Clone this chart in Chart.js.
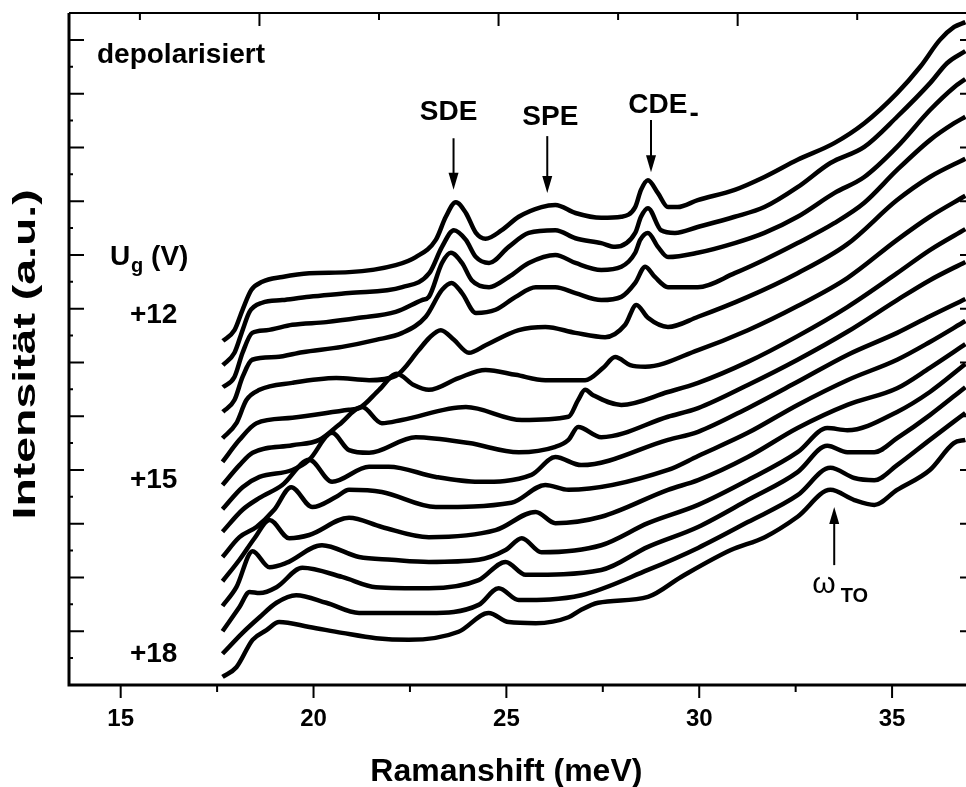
<!DOCTYPE html>
<html>
<head>
<meta charset="utf-8">
<script src="https://cdn.jsdelivr.net/npm/chart.js@4.4.0/dist/chart.umd.min.js"></script>
<style>
  html, body { margin: 0; padding: 0; background: #fff; overflow: hidden; }
  canvas { display: block; }
</style>
</head>
<body>
<canvas id="grafico" width="976" height="787"></canvas>
<script>
// Spektren von oben (1) nach unten (15): Ramanshift in meV, Intensitaet in a.u.
const shift1 = [17.65,17.95,18.16,18.39,18.67,19.19,19.89,20.92,22.13,22.65,23.17,23.43,23.69,23.95,24.21,24.46,24.88,25.32,25.91,26.27,26.79,27.46,27.98,28.34,28.49,28.67,28.93,29.19,29.44,29.96,30.92,31.69,32.55,33.50,34.28,35.13,35.73,36.24,36.61,36.9];
const int1   = [6.40,6.60,6.98,7.35,7.50,7.59,7.66,7.68,7.81,7.96,8.28,8.71,8.98,8.78,8.41,8.30,8.46,8.71,8.89,8.93,8.78,8.69,8.71,8.89,9.21,9.39,9.15,8.89,8.89,9.02,9.21,9.45,9.77,10.08,10.45,11.01,11.50,12.00,12.24,12.33];

const shift2 = [17.65,17.95,18.16,18.34,18.67,19.19,19.89,20.92,22.30,23.00,23.33,23.64,23.95,24.21,24.55,25.06,25.58,26.27,26.79,27.46,27.82,28.34,28.49,28.67,29.01,29.37,29.96,30.92,31.69,32.55,33.40,34.28,35.13,35.99,36.43,36.9];
const int2   = [5.95,6.18,6.60,6.94,7.11,7.16,7.22,7.29,7.40,7.66,8.15,8.46,8.28,7.96,7.85,8.15,8.41,8.46,8.31,8.22,8.15,8.41,8.71,8.87,8.46,8.41,8.52,8.71,8.89,9.26,9.71,10.01,10.57,11.20,11.57,11.79];

const shift3 = [17.65,17.95,18.16,18.41,18.78,19.45,20.33,21.18,22.13,22.81,22.99,23.33,23.56,23.85,24.10,24.55,25.06,25.58,26.27,26.79,27.46,27.98,28.34,28.47,28.67,28.93,29.19,29.96,30.92,31.69,32.55,33.50,34.28,35.13,35.99,36.61,36.9];
const int3   = [5.54,5.73,6.18,6.55,6.60,6.70,6.75,6.83,6.94,7.16,7.22,7.85,8.04,7.85,7.53,7.40,7.59,7.85,8.00,7.85,7.72,7.78,8.04,8.28,8.41,8.15,7.96,8.04,8.22,8.41,8.71,9.15,9.45,10.01,10.70,11.12,11.27];

const shift4 = [17.65,17.95,18.16,18.41,19.03,19.71,20.74,21.62,22.30,22.91,23.33,23.58,23.85,24.21,24.72,25.24,25.76,26.27,26.79,27.46,27.98,28.34,28.60,28.85,29.19,29.96,30.92,31.69,32.55,33.50,34.28,35.13,35.99,36.61,36.9];
const int4   = [5.08,5.30,5.73,6.05,6.10,6.19,6.29,6.42,6.55,6.85,7.35,7.48,7.29,6.92,6.98,7.22,7.40,7.40,7.29,7.16,7.22,7.48,7.78,7.59,7.40,7.40,7.66,7.91,8.22,8.59,8.97,9.58,10.14,10.45,10.57];

const shift5 = [17.64,18.00,18.26,18.60,19.45,20.59,21.44,22.13,22.73,22.99,23.30,23.64,24.03,24.46,25.32,26.01,26.79,27.56,28.08,28.37,28.67,29.19,29.97,31.26,32.55,33.84,35.13,35.98,36.9];
const int5   = [4.59,4.87,5.30,5.49,5.62,5.71,5.67,5.75,6.23,6.45,6.60,6.42,6.18,6.32,6.60,6.66,6.55,6.47,6.70,7.07,6.83,6.66,6.85,7.22,7.66,8.20,9.02,9.45,9.79];

const shift6 = [17.64,18.08,18.52,19.45,20.92,21.18,21.70,22.16,22.60,22.99,23.76,24.46,25.24,26.01,27.04,27.51,27.82,28.21,28.60,29.97,31.26,32.55,33.84,35.13,35.98,36.9];
const int6   = [4.15,4.56,4.87,4.97,5.12,5.15,5.49,5.79,5.58,5.49,5.71,5.86,5.77,5.67,5.67,5.90,6.10,5.95,5.92,6.23,6.60,7.05,7.57,8.28,8.71,9.10];

const shift7 = [17.64,18.08,18.42,19.45,20.15,20.66,21.26,21.77,22.29,23.95,25.40,26.61,26.86,27.04,27.25,27.98,29.19,29.97,31.26,32.55,33.84,35.13,35.98,36.9];
const int7   = [3.72,4.09,4.32,4.46,4.56,4.84,5.17,4.87,4.93,5.17,4.93,4.99,5.30,5.49,5.39,5.21,5.45,5.62,6.01,6.49,7.03,7.66,8.09,8.48];

const shift8 = [17.64,18.16,18.60,19.45,19.89,20.48,20.92,21.44,22.65,24.03,25.32,26.27,26.61,26.86,27.46,29.19,29.97,31.26,32.55,33.84,35.13,35.98,36.9];
const int8   = [3.27,3.68,3.87,4.00,4.19,4.69,4.37,4.32,4.61,4.50,4.33,4.43,4.56,4.80,4.61,4.99,5.15,5.58,6.05,6.57,7.16,7.53,7.87];

const shift9 = [17.64,18.16,18.60,19.19,19.89,20.48,21.44,21.95,23.17,24.28,25.65,26.27,26.94,29.19,29.97,31.26,32.55,33.84,35.13,35.98,36.9];
const int9   = [2.85,3.26,3.48,3.72,4.19,3.78,4.06,4.06,3.87,3.78,3.91,4.24,4.09,4.56,4.71,5.15,5.64,6.14,6.55,6.86,7.18];

const shift10 = [17.64,18.08,18.52,18.98,19.42,19.97,20.59,20.92,21.77,23.17,25.13,26.01,26.61,29.19,29.97,31.26,32.55,33.84,35.13,35.98,36.9];
const int10   = [2.38,2.75,2.94,3.26,3.68,3.31,3.50,3.63,3.59,3.31,3.39,3.72,3.63,4.00,4.26,4.69,5.21,5.67,6.05,6.38,6.77];

const shift11 = [17.64,18.08,18.47,18.86,19.37,19.89,20.92,21.77,22.99,24.72,25.76,26.27,27.46,29.19,29.97,31.26,32.55,33.84,35.13,35.98,36.9];
const int11   = [1.93,2.33,2.73,3.07,2.73,2.79,3.11,2.94,2.75,2.88,3.22,3.01,3.13,3.63,3.81,4.24,4.78,5.21,5.52,5.90,6.34];

const shift12 = [17.64,18.00,18.42,18.86,19.29,20.22,21.18,22.03,22.99,24.28,24.98,25.40,25.91,27.46,28.67,29.97,31.26,32.55,33.32,33.84,35.13,35.98,36.9];
const int12   = [1.47,1.82,2.49,2.19,2.27,2.60,2.38,2.33,2.29,2.33,2.51,2.73,2.47,2.60,3.01,3.35,3.81,4.33,4.78,4.74,5.08,5.45,5.97];

const shift13 = [17.64,18.08,18.34,18.60,19.04,19.71,20.74,21.62,22.99,24.28,24.98,25.50,27.46,28.67,29.97,31.26,32.55,33.32,33.84,34.54,35.13,35.98,36.9];
const int13   = [1.00,1.45,1.73,1.71,1.82,2.18,2.01,1.82,1.80,1.95,2.29,2.05,2.14,2.57,2.94,3.44,3.96,4.45,4.33,4.33,4.59,5.02,5.54];

const shift14 = [17.64,18.16,18.60,19.04,19.55,20.33,21.18,22.03,22.99,24.28,24.80,25.32,26.94,28.67,29.97,31.26,32.55,33.40,34.02,34.54,35.13,35.98,36.9];
const int14   = [0.58,0.97,1.26,1.53,1.67,1.53,1.34,1.34,1.34,1.49,1.80,1.58,1.67,2.14,2.55,3.03,3.53,4.04,3.85,3.81,4.09,4.56,5.06];

const shift15 = [17.64,18.00,18.42,18.78,19.11,19.89,20.74,21.62,22.47,23.76,24.54,25.06,25.76,26.61,26.94,27.38,28.67,29.53,30.82,31.70,32.55,33.40,34.02,34.54,35.13,35.98,36.60,36.9];
const int15   = [0.15,0.33,0.84,1.02,1.17,1.08,0.97,0.87,0.84,0.99,1.34,1.17,1.15,1.26,1.40,1.53,1.64,2.01,2.51,2.75,3.13,3.63,3.44,3.35,3.63,4.00,4.50,4.56];

// Achsen
const xTicks = [15, 20, 25, 30, 35];
const xMinor = [17.5, 22.5, 27.5, 32.5];
const topTicksCm = [125, 150, 175, 200, 225, 250, 275]; // Wellenzahl cm^-1, oben ohne Beschriftung
const gateLabels = ['+12', '+15', '+18'];

const spektren = [
  [shift1, int1], [shift2, int2], [shift3, int3], [shift4, int4], [shift5, int5],
  [shift6, int6], [shift7, int7], [shift8, int8], [shift9, int9], [shift10, int10],
  [shift11, int11], [shift12, int12], [shift13, int13], [shift14, int14], [shift15, int15]
];

const FONT = "Arial, 'Liberation Sans', Helvetica, sans-serif";

// Beschriftungen im Diagramm (Datenkoordinaten)
const texte = [
  { t: 'depolarisiert', x: 14.385, y: 11.57 },
  { t: gateLabels[0], x: 15.24, y: 6.73 },
  { t: gateLabels[1], x: 15.24, y: 3.66 },
  { t: gateLabels[2], x: 15.24, y: 0.43 },
  { t: 'SDE', x: 23.50, y: 10.51, center: true },
  { t: 'SPE', x: 26.14, y: 10.42, center: true }
];
const pfeile = [
  { x: 23.63, von: 10.17, bis: 9.21 },
  { x: 26.06, von: 10.21, bis: 9.15 },
  { x: 28.75, von: 10.51, bis: 9.54 },
  { x: 33.50, von: 2.23, bis: 3.31 }
];

const beschriftung = {
  id: 'beschriftung',
  afterDraw(chart) {
    const ctx = chart.ctx;
    const a = chart.chartArea;
    const sx = chart.scales.x, sy = chart.scales.y;
    const px = v => sx.getPixelForValue(v);
    const py = v => sy.getPixelForValue(v);
    ctx.save();
    ctx.strokeStyle = '#000';
    ctx.fillStyle = '#000';

    // Rahmen
    ctx.lineWidth = 3;
    ctx.beginPath();
    ctx.moveTo(a.left, a.top); ctx.lineTo(a.left, a.bottom); ctx.lineTo(a.right, a.bottom);
    ctx.stroke();
    ctx.lineWidth = 2;
    ctx.beginPath();
    ctx.moveTo(a.left, a.top); ctx.lineTo(a.right, a.top); ctx.lineTo(a.right, a.bottom);
    ctx.stroke();

    // Ticks unten (nach aussen)
    ctx.lineWidth = 2;
    ctx.beginPath();
    xTicks.forEach(v => { ctx.moveTo(px(v), a.bottom); ctx.lineTo(px(v), a.bottom + 13); });
    xMinor.forEach(v => { ctx.moveTo(px(v), a.bottom); ctx.lineTo(px(v), a.bottom + 7); });
    // Ticks oben (cm^-1, nach innen)
    topTicksCm.forEach(cm => {
      const x = px(cm / 8.0655);
      ctx.moveTo(x, a.top); ctx.lineTo(x, a.top + (cm % 50 === 0 ? 13 : 7));
    });
    // Ticks links und rechts (nach innen)
    for (let v = 0.5; v < 12.5; v += 0.5) {
      const len = Number.isInteger(v) ? 15 : 4;
      ctx.moveTo(a.left, py(v)); ctx.lineTo(a.left + len, py(v));
      ctx.moveTo(a.right, py(v)); ctx.lineTo(a.right - len, py(v));
    }
    ctx.stroke();

    // Texte
    ctx.textBaseline = 'alphabetic';
    ctx.font = 'bold 28px ' + FONT;
    texte.forEach(o => {
      ctx.textAlign = o.center ? 'center' : 'left';
      ctx.fillText(o.t, px(o.x), py(o.y));
    });

    // U_g (V)
    ctx.textAlign = 'left';
    let x0 = px(14.72), y0 = py(7.81);
    ctx.fillText('U', x0, y0);
    let w = ctx.measureText('U').width;
    ctx.font = 'bold 20px ' + FONT;
    ctx.fillText('g', x0 + w + 1, y0 + 7);
    const wg = ctx.measureText('g').width;
    ctx.font = 'bold 28px ' + FONT;
    ctx.fillText(' (V)', x0 + w + wg + 1, y0);

    // CDE_-
    x0 = px(28.16); y0 = py(10.64);
    ctx.fillText('CDE', x0, y0);
    w = ctx.measureText('CDE').width;
    ctx.fillText('-', x0 + w + 2, y0 + 9);

    // omega_TO
    x0 = px(32.93); y0 = py(1.71);
    ctx.font = '30px ' + FONT;
    ctx.fillText('\u03c9', x0, y0);
    w = ctx.measureText('\u03c9').width;
    ctx.font = 'bold 20px ' + FONT;
    ctx.fillText('TO', x0 + w + 5, py(1.54));

    // Pfeile
    ctx.lineWidth = 2;
    pfeile.forEach(p => {
      const x = px(p.x), y1 = py(p.von), y2 = py(p.bis);
      const dir = y2 > y1 ? 1 : -1;
      ctx.beginPath();
      ctx.moveTo(x, y1); ctx.lineTo(x, y2 - dir * 12);
      ctx.stroke();
      ctx.beginPath();
      ctx.moveTo(x, y2);
      ctx.lineTo(x - 5, y2 - dir * 17);
      ctx.lineTo(x + 5, y2 - dir * 17);
      ctx.closePath();
      ctx.fill();
    });

    // Achsentitel
    ctx.font = 'bold 32px ' + FONT;
    ctx.textAlign = 'center';
    ctx.fillText('Ramanshift (meV)', px(25), a.bottom + 96);
    ctx.save();
    ctx.translate(a.left - 34, py(6.15));
    ctx.rotate(-Math.PI / 2);
    // Titel im Original breit gezogen
    const yTitel = 'Intensität (a.u.)';
    ctx.scale(330 / ctx.measureText(yTitel).width, 1);
    ctx.fillText(yTitel, 0, 0);
    ctx.restore();

    ctx.restore();
  }
};

const ctx = document.getElementById('grafico');
new Chart(ctx, {
  type: 'line',
  data: {
    datasets: spektren.map(([xs, ys]) => ({
      data: xs.map((v, i) => ({ x: v, y: ys[i] })),
      borderColor: '#000',
      borderWidth: 4.5,
      pointRadius: 0,
      fill: false,
      cubicInterpolationMode: 'monotone'
    }))
  },
  options: {
    responsive: false,
    animation: false,
    layout: { padding: { top: 13, right: 1, left: 0, bottom: 0 } },
    plugins: { legend: { display: false }, tooltip: { enabled: false } },
    scales: {
      x: {
        type: 'linear',
        min: 13.66,
        max: 37.15,
        afterBuildTicks: s => { s.ticks = xTicks.map(v => ({ value: v })); },
        afterFit: s => { s.height = 102; },
        grid: { display: false, drawTicks: false },
        border: { display: false },
        ticks: { color: '#000', padding: 20, font: { family: FONT, size: 24, weight: 'bold' } }
      },
      y: {
        type: 'linear',
        min: 0,
        max: 12.5,
        afterFit: s => { s.width = 69; },
        grid: { display: false, drawTicks: false },
        border: { display: false },
        ticks: { display: false }
      }
    }
  },
  plugins: [beschriftung]
});
</script>
</body>
</html>
